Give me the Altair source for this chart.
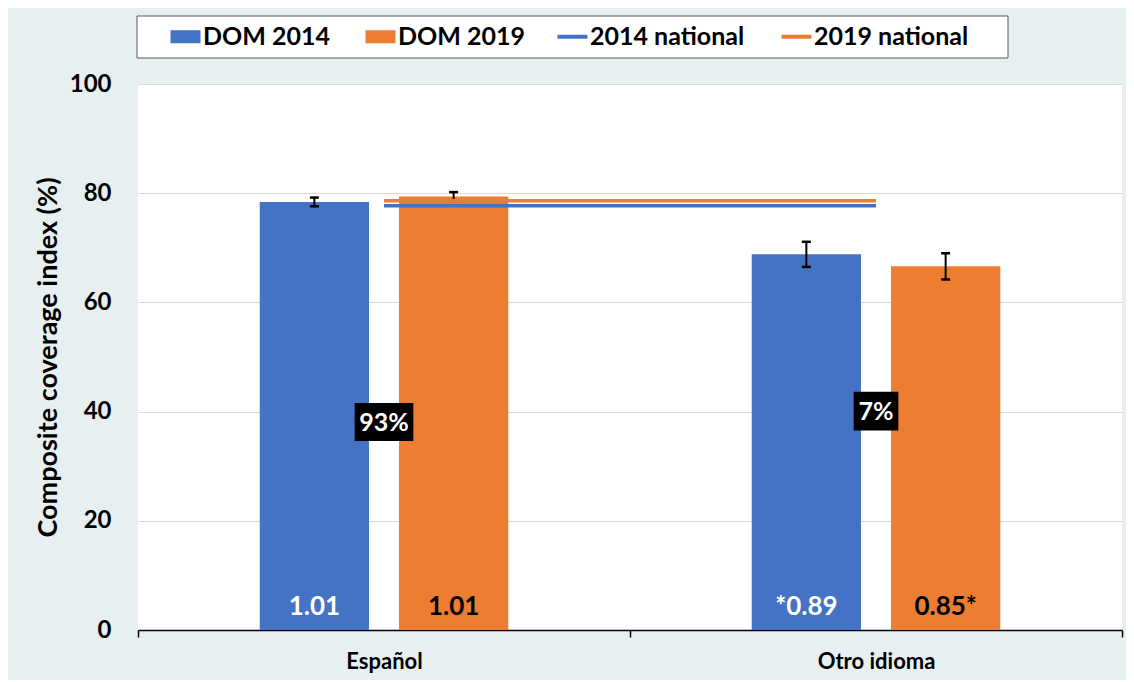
import altair as alt
import pandas as pd

# ---------------- data ----------------
categories = ["Español", "Otro idioma"]
bar_series = ["DOM 2014", "DOM 2019"]
line_series = ["2014 national", "2019 national"]
dom_2014 = [78.4, 68.8]
dom_2019 = [79.4, 66.6]
err_2014 = [0.8, 2.3]
err_2019 = [0.8, 2.4]
ratio_2014 = ["1.01", "*0.89"]
ratio_2019 = ["1.01", "0.85*"]
national_values = [77.7, 78.6]
share_labels = ["93%", "7%"]
share_label_y = [38.1, 40.1]

# ---------------- tables ----------------
rows = []
for i, c in enumerate(categories):
    rows.append(dict(category=c, series="DOM 2014", value=dom_2014[i],
                     lo=dom_2014[i] - err_2014[i], hi=dom_2014[i] + err_2014[i],
                     ratio=ratio_2014[i]))
    rows.append(dict(category=c, series="DOM 2019", value=dom_2019[i],
                     lo=dom_2019[i] - err_2019[i], hi=dom_2019[i] + err_2019[i],
                     ratio=ratio_2019[i]))
bars_df = pd.DataFrame(rows)
nat_df = pd.DataFrame(dict(series=line_series, value=national_values,
                           start=[categories[0]] * 2, end=[categories[1]] * 2))
share_df = pd.DataFrame(dict(category=categories, label=share_labels, value=share_label_y))

BLUE = "#4472C4"
ORANGE = "#ED7D31"
FONT = "Lato"

x_scale = alt.Scale(domain=categories, paddingInner=0, paddingOuter=0)
x_axis = alt.Axis(title=None, labelFont=FONT, labelFontSize=22, labelFontWeight="bold",
                  labelColor="black", labelAngle=0, labelBaseline="middle", labelPadding=24,
                  domainColor="black", domainWidth=1.5, tickColor="black", tickWidth=1.5,
                  tickSize=7, tickBand="extent", grid=False)
y_scale = alt.Scale(domain=[0, 100], nice=False, zero=True)
y_axis = alt.Axis(title="Composite coverage index (%)", values=[0, 20, 40, 60, 80, 100],
                  labelFont=FONT, labelFontSize=24, labelFontWeight="bold", labelColor="black",
                  labelPadding=27, ticks=False, tickSize=0, domain=False,
                  gridColor="#D9D9D9", gridWidth=1,
                  titleFont=FONT, titleFontSize=27, titleFontWeight="bold", titleColor="black",
                  titleX=-90, titleY=273, titleAngle=270, titleBaseline="middle", titleAlign="center")

def X(field):
    return alt.X(field, type="nominal", scale=x_scale, axis=x_axis, sort=categories)

def Y(field):
    return alt.Y(field, type="quantitative", scale=y_scale, axis=y_axis)

xoff = alt.XOffset("series:N", sort=bar_series,
                   scale=alt.Scale(domain=bar_series, paddingInner=0.2154, paddingOuter=0.874))

legend_common = dict(title=None, orient="none", direction="horizontal", columns=2, padding=0,
                     labelFont=FONT, labelFontSize=25, labelFontWeight="bold",
                     labelColor="black", symbolSize=225, legendY=-60)
bar_legend = alt.Legend(legendX=30, symbolOffset=5, labelOffset=5, columnPadding=33,
                        symbolType="M-2,-0.87H2V0.87H-2Z", symbolStrokeWidth=0,
                        **legend_common)
line_legend = alt.Legend(legendX=412, symbolOffset=10, labelOffset=5, columnPadding=28,
                         symbolType="M-2,0H2", symbolStrokeWidth=4, **legend_common)

fill_enc = alt.Color("series:N", scale=alt.Scale(domain=bar_series, range=[BLUE, ORANGE]),
                     legend=bar_legend)
stroke_enc = alt.Stroke("series:N", scale=alt.Scale(domain=line_series, range=[BLUE, ORANGE]),
                        legend=line_legend)

legend_frame = alt.Chart(share_df.head(1)).mark_rect(
    fill="white", stroke="#595959", strokeWidth=1).encode(
    x=alt.value(-1), x2=alt.value(870), y=alt.value(-68), y2=alt.value(-26))

bars = alt.Chart(bars_df).mark_bar().encode(
    x=X("category"), xOffset=xoff, y=Y("value"), color=fill_enc)

err_stem = alt.Chart(bars_df).mark_rule(color="black", strokeWidth=2).encode(
    x=X("category"), xOffset=xoff, y=Y("lo"), y2="hi")
err_lo = alt.Chart(bars_df).mark_tick(color="black", thickness=2.5, size=9,
                                      orient="horizontal", opacity=1).encode(
    x=X("category"), xOffset=xoff, y=Y("lo"))
err_hi = alt.Chart(bars_df).mark_tick(color="black", thickness=2.5, size=9,
                                      orient="horizontal", opacity=1).encode(
    x=X("category"), xOffset=xoff, y=Y("hi"))

national = alt.Chart(nat_df).mark_rule(strokeWidth=3.5).encode(
    x=alt.X("start", type="nominal", scale=x_scale, axis=x_axis, bandPosition=0.5),
    x2=alt.X2("end", bandPosition=0.5),
    y=Y("value"), stroke=stroke_enc)

ratio_text = alt.Chart(bars_df).mark_text(
    font=FONT, fontSize=26, fontWeight="bold", baseline="middle", dy=-23).encode(
    x=X("category"), xOffset=xoff, y=alt.datum(0), text="ratio:N",
    color=alt.condition(alt.datum.series == "DOM 2014", alt.value("white"), alt.value("black")))

box_93 = "M-1.545,-1H1.545V1H-1.545Z"
box_7 = "M-1.176,-1.02H1.176V1.02H-1.176Z"
share_box = alt.Chart(share_df).mark_point(filled=True, opacity=1, size=1444, strokeWidth=0).encode(
    x=X("category"), y=Y("value"),
    color=alt.value("black"),
    shape=alt.condition(alt.datum.category == "Español", alt.value(box_93), alt.value(box_7)))
share_text = alt.Chart(share_df).mark_text(
    font=FONT, fontSize=25, fontWeight="bold", color="white", baseline="middle", dy=1).encode(
    x=X("category"), y=Y("value"), text="label:N")

chart = alt.layer(legend_frame, bars, err_stem, err_lo, err_hi, national, ratio_text,
                  share_box, share_text).properties(
    width=984, height=546,
    autosize=alt.AutoSizeParams(type="none"),
    padding={"left": 130, "top": 76, "right": 4, "bottom": 50},
).configure(background="#E8EFF1").configure_view(fill="white", stroke=None)

chart.save("out.html", embed_options={"renderer": "svg", "actions": False})
